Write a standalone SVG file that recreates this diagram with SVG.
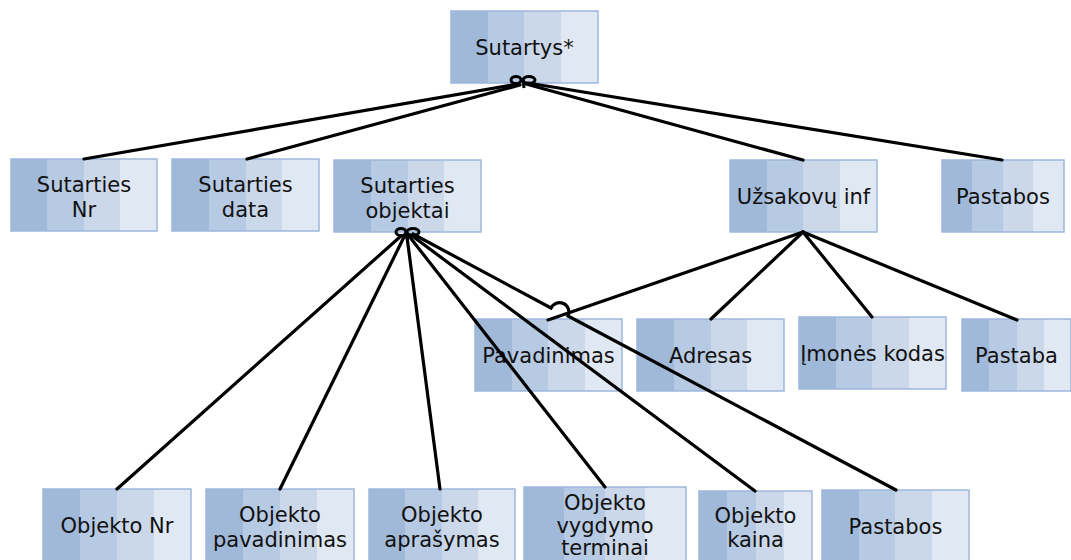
<svg xmlns="http://www.w3.org/2000/svg" width="1071" height="560" viewBox="0 0 1071 560">
  <defs>
    <!-- four equal vertical bands, dark to light -->
    <linearGradient id="bands" x1="0" y1="0" x2="1" y2="0">
      <stop offset="0" stop-color="#a1b9d9"/>
      <stop offset="0.25" stop-color="#a1b9d9"/>
      <stop offset="0.25" stop-color="#b6cae3"/>
      <stop offset="0.5" stop-color="#b6cae3"/>
      <stop offset="0.5" stop-color="#cbd8ea"/>
      <stop offset="0.75" stop-color="#cbd8ea"/>
      <stop offset="0.75" stop-color="#e0e8f3"/>
      <stop offset="1" stop-color="#e0e8f3"/>
    </linearGradient>
    <style>
      .box { fill: url(#bands); stroke: #9db7db; stroke-width: 1.5; }
      .lbl { font-family: "DejaVu Sans", Verdana, sans-serif; font-size: 21px; fill: #111; text-anchor: middle; }
      .wire { stroke: #000; stroke-width: 3.2; fill: none; stroke-linecap: round; }
      .curl { stroke: #000; stroke-width: 3; fill: none; }
    </style>
  </defs>

  <rect width="1071" height="560" fill="#fff"/>

  <!-- nodes -->
  <g id="sutartys">
    <rect class="box" x="451" y="11" width="147" height="72"/>
    <text class="lbl" x="524.5" y="55">Sutartys*</text>
  </g>
  <g id="sutarties-nr">
    <rect class="box" x="11" y="159" width="146" height="72"/>
    <text class="lbl" x="84" y="192">Sutarties</text>
    <text class="lbl" x="84" y="217">Nr</text>
  </g>
  <g id="sutarties-data">
    <rect class="box" x="172" y="159" width="147" height="72"/>
    <text class="lbl" x="245.5" y="192">Sutarties</text>
    <text class="lbl" x="245.5" y="217">data</text>
  </g>
  <g id="sutarties-objektai">
    <rect class="box" x="334" y="160" width="147" height="72"/>
    <text class="lbl" x="407.5" y="193">Sutarties</text>
    <text class="lbl" x="407.5" y="218">objektai</text>
  </g>
  <g id="uzsakovu-inf">
    <rect class="box" x="730" y="160" width="147" height="72"/>
    <text class="lbl" x="803.5" y="204">Užsakovų inf</text>
  </g>
  <g id="pastabos-top">
    <rect class="box" x="942" y="160" width="122" height="72"/>
    <text class="lbl" x="1003" y="204">Pastabos</text>
  </g>
  <g id="pavadinimas">
    <rect class="box" x="475" y="319" width="147" height="72"/>
    <text class="lbl" x="548.5" y="363">Pavadinimas</text>
  </g>
  <g id="adresas">
    <rect class="box" x="637" y="319" width="147" height="72"/>
    <text class="lbl" x="710.5" y="363">Adresas</text>
  </g>
  <g id="imones-kodas">
    <rect class="box" x="799" y="317" width="147" height="72"/>
    <text class="lbl" x="872.5" y="361">Įmonės kodas</text>
  </g>
  <g id="pastaba">
    <rect class="box" x="962" y="319" width="109" height="72"/>
    <text class="lbl" x="1016.5" y="363">Pastaba</text>
  </g>
  <g id="objekto-nr">
    <rect class="box" x="43" y="489" width="148" height="72"/>
    <text class="lbl" x="117" y="533">Objekto Nr</text>
  </g>
  <g id="objekto-pavadinimas">
    <rect class="box" x="206" y="489" width="148" height="72"/>
    <text class="lbl" x="280" y="522">Objekto</text>
    <text class="lbl" x="280" y="547">pavadinimas</text>
  </g>
  <g id="objekto-aprasymas">
    <rect class="box" x="369" y="489" width="146" height="72"/>
    <text class="lbl" x="442" y="522">Objekto</text>
    <text class="lbl" x="442" y="547">aprašymas</text>
  </g>
  <g id="objekto-vygdymo-terminai">
    <rect class="box" x="524" y="487" width="162" height="74"/>
    <text class="lbl" x="605" y="510">Objekto</text>
    <text class="lbl" x="605" y="533">vygdymo</text>
    <text class="lbl" x="605" y="555">terminai</text>
  </g>
  <g id="objekto-kaina">
    <rect class="box" x="699" y="491" width="113" height="72"/>
    <text class="lbl" x="755.5" y="523">Objekto</text>
    <text class="lbl" x="755.5" y="547">kaina</text>
  </g>
  <g id="pastabos-bottom">
    <rect class="box" x="822" y="490" width="147" height="72"/>
    <text class="lbl" x="895.5" y="534">Pastabos</text>
  </g>

  <!-- connectors -->
  <g id="connectors">
    <!-- Sutartys* children -->
    <line class="wire" x1="518" y1="84" x2="84" y2="159"/>
    <line class="wire" x1="520" y1="85" x2="247" y2="159"/>
    <line class="wire" x1="526" y1="84" x2="803" y2="160"/>
    <line class="wire" x1="528" y1="83" x2="1002" y2="160"/>
    <g class="curl">
      <ellipse cx="516" cy="80" rx="5" ry="3.5"/>
      <ellipse cx="529" cy="80" rx="6" ry="3.5"/>
      <line x1="523" y1="79" x2="524" y2="88"/>
    </g>

    <!-- Sutarties objektai children -->
    <line class="wire" x1="401" y1="236" x2="117" y2="489"/>
    <line class="wire" x1="404" y1="237" x2="280" y2="489"/>
    <line class="wire" x1="407" y1="237" x2="440" y2="489"/>
    <line class="wire" x1="409" y1="236" x2="605" y2="487"/>
    <line class="wire" x1="411" y1="235" x2="755" y2="491"/>
    <path class="wire" d="M413,234 L551,308 A9,9 0 0 1 568,316 L896,490"/>
    <g class="curl">
      <ellipse cx="401" cy="232" rx="5" ry="3.5"/>
      <ellipse cx="413" cy="232" rx="6" ry="3.5"/>
      <line x1="406" y1="231" x2="407" y2="239"/>
    </g>

    <!-- Užsakovų inf children -->
    <line class="wire" x1="803" y1="232" x2="548" y2="320"/>
    <line class="wire" x1="803" y1="232" x2="711" y2="319"/>
    <line class="wire" x1="803" y1="232" x2="872" y2="317"/>
    <line class="wire" x1="803" y1="232" x2="1017" y2="320"/>
  </g>
</svg>
